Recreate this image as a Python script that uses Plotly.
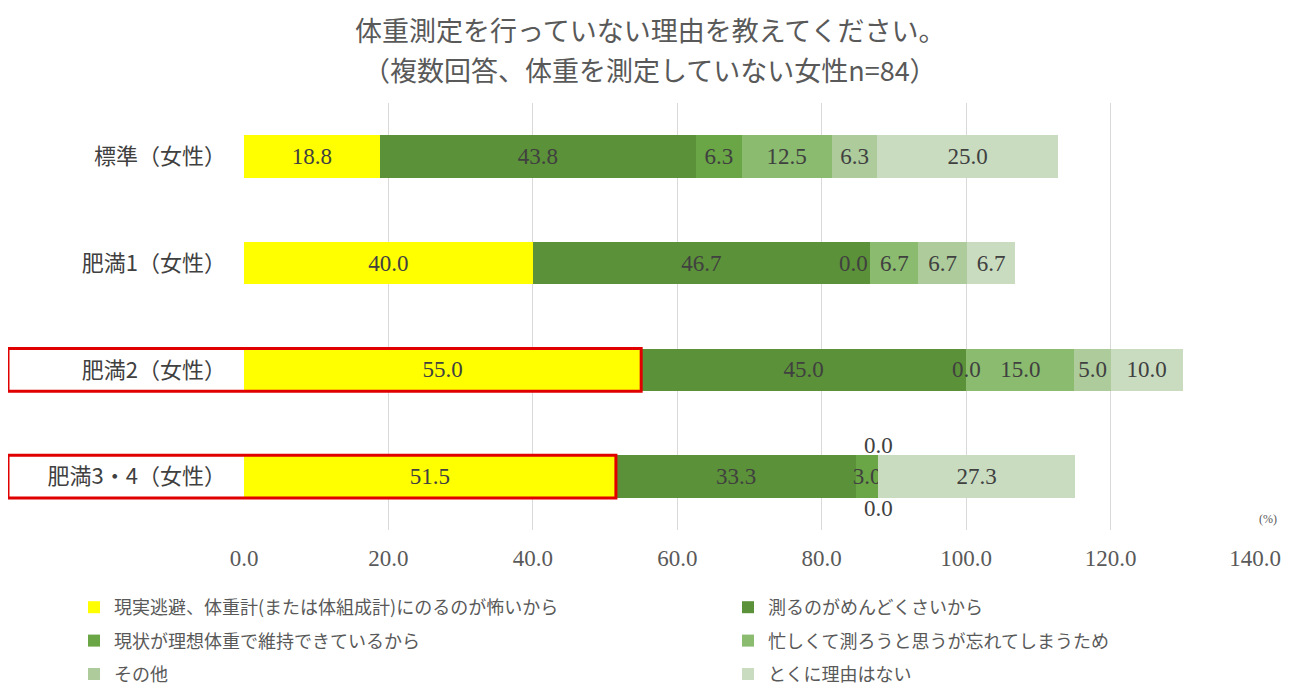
import plotly.graph_objects as go

# categories (top to bottom)
categories = ["標準（女性）", "肥満1（女性）", "肥満2（女性）", "肥満3・4（女性）"]

# reasons (legend order)
series_names = [
    "現実逃避、体重計(または体組成計)にのるのが怖いから",
    "測るのがめんどくさいから",
    "現状が理想体重で維持できているから",
    "忙しくて測ろうと思うが忘れてしまうため",
    "その他",
    "とくに理由はない",
]

# values (%) per reason, in category order
fear_values = [18.8, 40.0, 55.0, 51.5]
bother_values = [43.8, 46.7, 45.0, 33.3]
ideal_values = [6.3, 0.0, 0.0, 3.0]
busy_values = [12.5, 6.7, 15.0, 0.0]
other_values = [6.3, 6.7, 5.0, 0.0]
no_reason_values = [25.0, 6.7, 10.0, 27.3]

series_values = [fear_values, bother_values, ideal_values,
                 busy_values, other_values, no_reason_values]

colors = ["#FFFF00", "#5B9138", "#6AA546", "#8ABB6E", "#ADCB9B", "#C9DCC0"]

# highlighted rows (red frame around label + first bar)
highlighted = ["肥満2（女性）", "肥満3・4（女性）"]

# where to put "0.0" labels of empty segments: (xanchor, yshift)
zero_label_style = {
    ("肥満1（女性）", 2): ("right", 0),
    ("肥満2（女性）", 2): ("center", 0),
    ("肥満3・4（女性）", 3): ("center", 31),
    ("肥満3・4（女性）", 4): ("center", -32),
}

# the page puts the plot 8px in from the top-left corner (body margin)
PAGE_OFF = 8
W, H = 1299 - PAGE_OFF, 693 - PAGE_OFF
# plot area in page pixels: x 244..1255, y 103..530
ML, MT = 244 - PAGE_OFF, 103 - PAGE_OFF
MR, MB = W - (1255 - PAGE_OFF), H - (530 - PAGE_OFF)
X_MAX = 140

num_font = "Liberation Serif, Noto Sans CJK JP, serif"
jp_font = "Noto Sans CJK JP, sans-serif"

pw, ph = W - ML - MR, H - MT - MB


def page_to_paper(px, py):
    return (px - PAGE_OFF - ML) / pw, (H - MB - (py - PAGE_OFF)) / ph


fig = go.Figure()

for i, (name, vals, col) in enumerate(zip(series_names, series_values, colors)):
    fig.add_trace(go.Bar(
        y=categories,
        x=vals,
        name=name,
        orientation="h",
        marker=dict(color=col, line=dict(width=0)),
        text=[f"{v:.1f}" if v else "" for v in vals],
        textposition="inside",
        insidetextanchor="middle",
        textangle=0,
        textfont=dict(family=num_font, size=23, color="#404040"),
        width=0.4,
        hoverinfo="x+name",
        legend="legend" if i % 2 == 0 else "legend2",
        legendgroup=f"g{i}",
    ))

# zero value labels
for si, vals in enumerate(series_values):
    for ci, v in enumerate(vals):
        if v != 0:
            continue
        cat = categories[ci]
        pos = sum(series_values[k][ci] for k in range(si))
        anchor, yshift = zero_label_style.get((cat, si), ("center", 0))
        fig.add_annotation(
            x=pos, y=cat, xref="x", yref="y", text=f"{v:.1f}",
            showarrow=False, xanchor=anchor, yshift=yshift,
            font=dict(family=num_font, size=23, color="#404040"),
        )

# titles
tx, ty1 = page_to_paper(650, PAGE_OFF)
_, ty2 = page_to_paper(650, 70)
fig.add_annotation(
    x=tx, y=ty1, xref="paper", yref="paper", showarrow=False,
    text="体重測定を行っていない理由を教えてください。",
    font=dict(family=jp_font, size=27, color="#595959"),
    xanchor="center", yanchor="top",
)
fig.add_annotation(
    x=tx, y=ty2, xref="paper", yref="paper", showarrow=False,
    text="（複数回答、体重を測定していない女性n=84）",
    font=dict(family=jp_font, size=27, color="#595959"),
    xanchor="center", yanchor="middle",
)

# unit label
fig.add_annotation(
    x=1.0, y=0, xref="paper", yref="paper", text="(%)", showarrow=False,
    xanchor="left", yanchor="bottom", xshift=2, yshift=2,
    font=dict(family=num_font, size=12, color="#595959"),
)

# red highlight frames
n = len(categories)
for cat in highlighted:
    ci = categories.index(cat)
    yc = (n - 0.5 - ci) / n
    half = 0.2 / n
    x0, _ = page_to_paper(8, 0)
    fig.add_shape(
        type="rect", xref="paper", yref="paper",
        x0=x0, x1=fear_values[ci] / X_MAX, y0=yc - half, y1=yc + half,
        line=dict(color="#E00000", width=3), layer="above",
    )

legend_style = dict(
    orientation="v", xref="container", yref="container",
    xanchor="left", yanchor="top",
    font=dict(family=jp_font, size=18, color="#595959"),
    itemwidth=30, traceorder="grouped", tracegroupgap=7,
    bgcolor="rgba(0,0,0,0)",
)
legend_top = 1 - (589 - PAGE_OFF) / H

fig.update_layout(
    width=W, height=H,
    margin=dict(l=ML, r=MR, t=MT, b=MB, autoexpand=False),
    barmode="stack",
    bargap=0.6,
    plot_bgcolor="white",
    paper_bgcolor="white",
    uniformtext=dict(mode="show", minsize=23),
    showlegend=True,
    legend=dict(legend_style, x=(74 - PAGE_OFF) / W, y=legend_top),
    legend2=dict(legend_style, x=(728 - PAGE_OFF) / W, y=legend_top),
    xaxis=dict(
        range=[0, X_MAX], dtick=20, tickformat=".1f",
        showgrid=True, gridcolor="#D9D9D9", gridwidth=1,
        zeroline=False, showline=False, ticks="",
        tickfont=dict(family=num_font, size=23, color="#595959"),
        ticklabelstandoff=12, fixedrange=True,
    ),
    yaxis=dict(
        autorange="reversed", showgrid=False, zeroline=False, ticks="",
        tickfont=dict(family=jp_font, size=22, color="#404040"),
        ticklabelstandoff=17, fixedrange=True,
    ),
)

fig.write_html("out.html")
